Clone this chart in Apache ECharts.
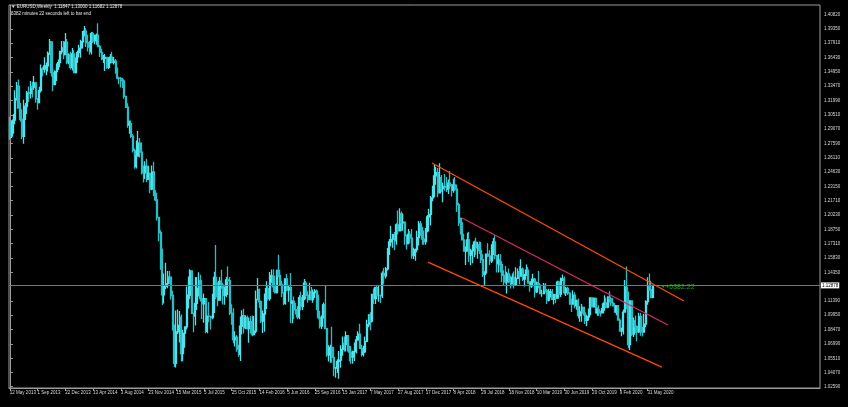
<!DOCTYPE html>
<html><head><meta charset="utf-8">
<script src="https://cdn.jsdelivr.net/npm/echarts@6/dist/echarts.min.js"></script>
<style>html,body{margin:0;padding:0;background:#000;}#c{width:848px;height:407px;}</style>
</head><body><div id="c"></div>
<script>
// ---- Data (EURUSD weekly) ----
const startWeek = '2013-05-12';
const firstOpen = 1.2970;
const closes = [
1.2835,1.2933,1.2999,1.3222,1.3347,1.3122,1.3007,1.2831,1.3067,1.3142,
1.3279,1.3275,1.3343,1.3336,1.3380,1.3217,1.3179,1.3301,1.3524,1.3523,
1.3555,1.3556,1.3685,1.3803,1.3486,1.3363,1.3497,1.3555,1.3589,1.3704,
1.3740,1.3673,1.3800,1.3590,1.3667,1.3540,1.3678,1.3487,1.3635,1.3693,
1.3738,1.3804,1.3876,1.3914,1.3795,1.3749,1.3704,1.3888,1.3813,1.3831,
1.3871,1.3755,1.3695,1.3631,1.3634,1.3644,1.3541,1.3608,1.3647,1.3593,
1.3604,1.3523,1.3430,1.3428,1.3413,1.3401,1.3242,1.3131,1.2951,1.2962,
1.2833,1.2685,1.2522,1.2630,1.2761,1.2670,1.2525,1.2457,1.2526,1.2391,
1.2451,1.2289,1.2466,1.2227,1.2179,1.2000,1.1841,1.1564,1.1204,1.1291,
1.1318,1.1389,1.1384,1.1196,1.0844,1.0499,1.0823,1.0888,1.0971,1.0600,
1.0808,1.0873,1.1198,1.1199,1.1448,1.1014,1.0986,1.1115,1.1268,1.1349,
1.1165,1.1111,1.1164,1.0829,1.0985,1.0982,1.0970,1.1100,1.1383,1.1184,
1.1150,1.1340,1.1302,1.1198,1.1208,1.1357,1.1349,1.1016,1.1003,1.0741,
1.0767,1.0645,1.0593,1.0880,1.0990,1.0867,1.0966,1.0856,1.0927,1.0914,
1.0795,1.0831,1.1155,1.1256,1.1132,1.0932,1.1006,1.1153,1.1267,1.1165,
1.1389,1.1400,1.1285,1.1225,1.1453,1.1402,1.1310,1.1224,1.1117,1.1367,
1.1253,1.1278,1.1118,1.1135,1.1050,1.1036,1.0977,1.1174,1.1086,1.1164,
1.1324,1.1197,1.1155,1.1233,1.1154,1.1227,1.1241,1.1200,1.0972,1.0881,
1.0985,1.1100,1.0855,1.0587,1.0588,1.0662,1.0561,1.0451,1.0454,1.0520,
1.0532,1.0643,1.0703,1.0695,1.0783,1.0640,1.0615,1.0562,1.0620,1.0672,
1.0739,1.0799,1.0652,1.0591,1.0616,1.0724,1.0896,1.0996,1.0932,1.1207,
1.1164,1.1277,1.1196,1.1196,1.1195,1.1424,1.1398,1.1470,1.1663,1.1748,
1.1773,1.1821,1.1760,1.1923,1.1860,1.2036,1.1944,1.1951,1.1813,1.1729,
1.1823,1.1786,1.1606,1.1608,1.1668,1.1792,1.1932,1.1897,1.1775,1.1750,
1.1860,1.2005,1.2029,1.2200,1.2221,1.2426,1.2459,1.2252,1.2408,1.2294,
1.2318,1.2307,1.2288,1.2352,1.2323,1.2279,1.2332,1.2288,1.2129,1.1960,
1.1943,1.1767,1.1652,1.1660,1.1768,1.1611,1.1655,1.1684,1.1745,1.1685,
1.1719,1.1657,1.1565,1.1410,1.1438,1.1622,1.1600,1.1553,1.1622,1.1747,
1.1605,1.1524,1.1560,1.1512,1.1403,1.1386,1.1337,1.1418,1.1337,1.1315,
1.1381,1.1306,1.1372,1.1441,1.1395,1.1467,1.1364,1.1404,1.1457,1.1324,
1.1295,1.1335,1.1365,1.1234,1.1325,1.1303,1.1217,1.1217,1.1300,1.1246,
1.1149,1.1200,1.1235,1.1157,1.1204,1.1170,1.1333,1.1211,1.1370,1.1370,
1.1225,1.1270,1.1220,1.1128,1.1108,1.1200,1.1092,1.1143,1.0990,1.1028,
1.1074,1.1018,1.0940,1.0978,1.1040,1.1172,1.1080,1.1166,1.1019,1.1051,
1.1019,1.1017,1.1060,1.1120,1.1078,1.1180,1.1162,1.1120,1.1090,1.1025,
1.1093,1.0944,1.0830,1.0847,1.1026,1.1282,1.1105,1.0692,1.1141,1.0799,
1.0935,1.0875,1.0823,1.0981,1.0841,1.0819,1.0903,1.1134,1.1290,1.1256,
1.1178,1.12878
];
const highs = [
1.3030,1.2997,1.3062,1.3306,1.3390,1.3416,1.3175,1.3110,1.3208,1.3175,
1.3297,1.3345,1.3401,1.3394,1.3452,1.3393,1.3225,1.3342,1.3569,1.3541,
1.3646,1.3590,1.3705,1.3832,1.3809,1.3530,1.3510,1.3580,1.3621,1.3708,
1.3811,1.3812,1.3893,1.3833,1.3687,1.3701,1.3739,1.3717,1.3640,1.3715,
1.3774,1.3825,1.3914,1.3967,1.3944,1.3877,1.3811,1.3905,1.3906,1.3876,
1.3889,1.3993,1.3770,1.3732,1.3669,1.3677,1.3645,1.3646,1.3677,1.3701,
1.3647,1.3627,1.3540,1.3444,1.3443,1.3433,1.3390,1.3225,1.3173,1.2994,
1.2994,1.2857,1.2708,1.2790,1.2887,1.2815,1.2768,1.2532,1.2575,1.2601,
1.2530,1.2457,1.2532,1.2570,1.2279,1.2252,1.1969,1.1868,1.1680,1.1423,
1.1534,1.1447,1.1449,1.1388,1.1245,1.0899,1.1043,1.1052,1.1037,1.1000,
1.0845,1.0880,1.1290,1.1391,1.1467,1.1414,1.1021,1.1385,1.1386,1.1436,
1.1409,1.1278,1.1216,1.1125,1.0986,1.1129,1.0985,1.1214,1.1440,1.1714,
1.1331,1.1387,1.1460,1.1327,1.1288,1.1387,1.1495,1.1387,1.1106,1.1065,
1.0829,1.0790,1.0690,1.0981,1.1044,1.1060,1.0993,1.0990,1.0971,1.0983,
1.0990,1.0985,1.1247,1.1376,1.1268,1.1146,1.1043,1.1218,1.1342,1.1294,
1.1438,1.1463,1.1465,1.1398,1.1460,1.1616,1.1446,1.1349,1.1228,1.1373,
1.1416,1.1298,1.1427,1.1148,1.1186,1.1120,1.1089,1.1198,1.1234,1.1201,
1.1366,1.1344,1.1241,1.1328,1.1283,1.1259,1.1263,1.1258,1.1204,1.1039,
1.0986,1.1124,1.1300,1.0840,1.0685,1.0690,1.0874,1.0668,1.0458,1.0540,
1.0626,1.0685,1.0775,1.0774,1.0830,1.0771,1.0680,1.0678,1.0630,1.0714,
1.0780,1.0830,1.0906,1.0690,1.0679,1.0774,1.0948,1.1000,1.1023,1.1208,
1.1268,1.1285,1.1296,1.1296,1.1199,1.1445,1.1479,1.1490,1.1684,1.1777,
1.1910,1.1830,1.1849,1.1940,1.2070,1.2092,1.2060,1.2034,1.1952,1.1799,
1.1880,1.1860,1.1880,1.1688,1.1680,1.1861,1.1961,1.1961,1.1876,1.1863,
1.1890,1.2023,1.2089,1.2219,1.2323,1.2537,1.2520,1.2506,1.2555,1.2435,
1.2355,1.2446,1.2413,1.2388,1.2476,1.2343,1.2396,1.2414,1.2336,1.2150,
1.1997,1.1996,1.1831,1.1700,1.1840,1.1852,1.1676,1.1720,1.1760,1.1791,
1.1748,1.1750,1.1747,1.1620,1.1444,1.1624,1.1734,1.1660,1.1722,1.1788,
1.1815,1.1609,1.1622,1.1621,1.1549,1.1457,1.1500,1.1441,1.1473,1.1401,
1.1423,1.1443,1.1486,1.1474,1.1497,1.1570,1.1484,1.1417,1.1514,1.1488,
1.1342,1.1372,1.1419,1.1375,1.1339,1.1448,1.1325,1.1256,1.1324,1.1324,
1.1264,1.1265,1.1264,1.1264,1.1215,1.1214,1.1348,1.1347,1.1380,1.1412,
1.1392,1.1286,1.1286,1.1230,1.1162,1.1250,1.1230,1.1155,1.1165,1.1085,
1.1109,1.1076,1.1025,1.0999,1.1062,1.1179,1.1179,1.1175,1.1175,1.1074,
1.1097,1.1039,1.1117,1.1200,1.1175,1.1188,1.1239,1.1171,1.1173,1.1118,
1.1096,1.1095,1.0963,1.0864,1.1053,1.1355,1.1495,1.1237,1.1147,1.1148,
1.0970,1.0990,1.0888,1.1019,1.1019,1.0876,1.1008,1.1147,1.1384,1.1422,
1.1348,1.1300
];
const lows = [
1.2796,1.2814,1.2858,1.2955,1.3200,1.3115,1.2985,1.2805,1.2755,1.3001,
1.3126,1.3186,1.3222,1.3231,1.3310,1.3178,1.3105,1.3177,1.3282,1.3447,
1.3485,1.3461,1.3497,1.3669,1.3446,1.3296,1.3358,1.3401,1.3513,1.3542,
1.3676,1.3625,1.3665,1.3573,1.3574,1.3520,1.3508,1.3485,1.3478,1.3588,
1.3642,1.3640,1.3735,1.3857,1.3749,1.3705,1.3673,1.3673,1.3790,1.3779,
1.3772,1.3751,1.3647,1.3614,1.3586,1.3503,1.3527,1.3523,1.3580,1.3584,
1.3571,1.3476,1.3419,1.3367,1.3333,1.3328,1.3217,1.3125,1.2919,1.2858,
1.2815,1.2666,1.2500,1.2502,1.2623,1.2614,1.2439,1.2358,1.2394,1.2359,
1.2392,1.2247,1.2279,1.2218,1.2165,1.1968,1.1754,1.1460,1.1098,1.1114,
1.1262,1.1270,1.1315,1.1155,1.0840,1.0462,1.0457,1.0800,1.0713,1.0518,
1.0520,1.0660,1.0848,1.1063,1.1158,1.1012,1.0819,1.0888,1.1047,1.1187,
1.1134,1.0955,1.0915,1.0808,1.0809,1.0922,1.0848,1.0953,1.1017,1.1157,
1.1086,1.1152,1.1266,1.1104,1.1100,1.1179,1.1335,1.0997,1.0896,1.0705,
1.0673,1.0617,1.0566,1.0524,1.0796,1.0805,1.0850,1.0848,1.0711,1.0805,
1.0778,1.0807,1.0809,1.1163,1.1067,1.0913,1.0810,1.0823,1.1058,1.1144,
1.1143,1.1327,1.1233,1.1217,1.1217,1.1384,1.1300,1.1180,1.1097,1.1101,
1.1240,1.1131,1.0912,1.0912,1.0952,1.1001,1.0952,1.0953,1.1045,1.1046,
1.1147,1.1181,1.1123,1.1148,1.1151,1.1123,1.1171,1.1048,1.0953,1.0858,
1.0851,1.0960,1.0852,1.0568,1.0518,1.0505,1.0505,1.0366,1.0352,1.0400,
1.0340,1.0454,1.0576,1.0621,1.0620,1.0620,1.0521,1.0494,1.0495,1.0524,
1.0600,1.0737,1.0651,1.0569,1.0570,1.0606,1.0724,1.0869,1.0839,1.0920,
1.1110,1.1109,1.1195,1.1131,1.1119,1.1170,1.1312,1.1371,1.1452,1.1613,
1.1703,1.1688,1.1662,1.1719,1.1823,1.1866,1.1858,1.1861,1.1717,1.1669,
1.1729,1.1730,1.1574,1.1572,1.1553,1.1640,1.1711,1.1811,1.1717,1.1717,
1.1718,1.1846,1.1996,1.1915,1.2165,1.2206,1.2335,1.2206,1.2260,1.2260,
1.2154,1.2272,1.2259,1.2239,1.2289,1.2214,1.2252,1.2276,1.2055,1.1910,
1.1823,1.1763,1.1647,1.1510,1.1645,1.1541,1.1508,1.1527,1.1590,1.1616,
1.1575,1.1624,1.1529,1.1387,1.1301,1.1422,1.1590,1.1510,1.1530,1.1612,
1.1570,1.1432,1.1432,1.1433,1.1335,1.1301,1.1316,1.1216,1.1322,1.1267,
1.1317,1.1269,1.1302,1.1369,1.1310,1.1393,1.1345,1.1289,1.1398,1.1318,
1.1234,1.1274,1.1325,1.1176,1.1221,1.1271,1.1212,1.1183,1.1210,1.1226,
1.1110,1.1135,1.1176,1.1150,1.1105,1.1116,1.1164,1.1203,1.1181,1.1345,
1.1207,1.1192,1.1201,1.1101,1.1027,1.1104,1.1066,1.1050,1.0963,1.0926,
1.0926,1.0990,1.0904,1.0879,1.0940,1.0992,1.1073,1.1072,1.1014,1.0989,
1.0989,1.0981,1.1016,1.1040,1.1064,1.1066,1.1125,1.1086,1.1087,1.1020,
1.0992,1.0940,1.0827,1.0777,1.0795,1.1026,1.1055,1.0653,1.0636,1.0780,
1.0770,1.0811,1.0727,1.0810,1.0782,1.0775,1.0871,1.0870,1.1102,1.1243,
1.1168,1.11682
];
const bidPrice = 1.12878;
const headerLine1 = '\u25BC EURUSD,Weekly  1.11847 1.13000 1.11682 1.12878';
const headerLine2 = '6382 minutes 22 seconds left to bar end';
const profitText = '+6382.22';
const profitWeek = 377;
const yTicks = [1.40820,1.39350,1.37910,1.36430,1.34950,1.33470,1.31990,1.30510,1.29070,1.27590,
1.26110,1.24630,1.23150,1.21710,1.20230,1.18750,1.17310,1.15830,1.14350,1.11390,
1.09950,1.08470,1.06990,1.05510,1.04070,1.02590];
const xTickLabels = ['12 May 2013','1 Sep 2013','22 Dec 2013','13 Apr 2014','3 Aug 2014','23 Nov 2014',
'15 Mar 2015','5 Jul 2015','25 Oct 2015','14 Feb 2016','5 Jun 2016','25 Sep 2016','15 Jan 2017',
'7 May 2017','27 Aug 2017','17 Dec 2017','8 Apr 2018','29 Jul 2018','18 Nov 2018','10 Mar 2019',
'30 Jun 2019','20 Oct 2019','9 Feb 2020','31 May 2020'];
const weeksPerLabel = 16;
// channel lines: [week index, price]
const channelUpper = [[243.6, 1.2558],[389.0, 1.1140]];
const channelMiddle = [[260.9, 1.1993],[379.8, 1.0893]];
const channelLower = [[241.3, 1.1540],[376.3, 1.0461]];

// ---- build ----
const totalSlots = 468; // visible bar slots incl. chart shift
const yMin = 1.02456, yMax = 1.41817;
const categories = [];
const d0 = new Date(startWeek + 'T00:00:00Z');
for (let i = 0; i < totalSlots; i++) {
  const d = new Date(d0.getTime() + i * 7 * 86400000);
  categories.push(d.toISOString().slice(0, 10));
}
const candles = closes.map((c, i) => {
  const o = i === 0 ? firstOpen : closes[i - 1];
  return [o, c, Math.min(lows[i], o, c), Math.max(highs[i], o, c)];
});

const chart = echarts.init(document.getElementById('c'), null, {renderer: 'canvas'});
const FONT = 'Liberation Sans';
const labelIdx = (i) => i % weeksPerLabel === 0 && (i / weeksPerLabel) < xTickLabels.length;
chart.setOption({
  backgroundColor: '#000',
  animation: false,
  grid: {left: 9, right: 28, top: 5, bottom: 19, show: true, borderColor: '#9c9c9c', borderWidth: 1, backgroundColor: '#000'},
  xAxis: [{
    type: 'category', data: categories, boundaryGap: true,
    axisLine: {show: true, lineStyle: {color: '#9c9c9c', width: 1}},
    axisTick: {show: true, interval: labelIdx, alignWithLabel: true, length: 3, lineStyle: {color: '#9c9c9c'}},
    axisLabel: {interval: labelIdx, formatter: (v, i) => xTickLabels[i / weeksPerLabel] || '', color: '#d8d8d8', fontSize: 4.5, fontFamily: FONT, align: 'left', margin: 2},
    splitLine: {show: false}
  }, {
    type: 'value', min: -0.5, max: totalSlots - 0.5, show: false
  }],
  yAxis: {
    type: 'value', position: 'right', min: yMin, max: yMax, scale: true,
    axisLine: {show: true, lineStyle: {color: '#9c9c9c', width: 1}},
    axisTick: {show: true, customValues: yTicks, length: 3, lineStyle: {color: '#9c9c9c'}},
    axisLabel: {customValues: yTicks, formatter: (v) => v.toFixed(5), color: '#d8d8d8', fontSize: 4.5, fontFamily: FONT, margin: 4},
    splitLine: {show: false}
  },
  graphic: [
    {type: 'text', left: 11, top: 4, style: {text: headerLine1, fill: '#e8e8e8', font: '4.5px ' + FONT}},
    {type: 'text', left: 11, top: 11, style: {text: headerLine2, fill: '#e8e8e8', font: '4.5px ' + FONT}}
  ],
  series: [{
    type: 'candlestick', data: candles, barWidth: 1.6,
    itemStyle: {color: '#4fe2ea', color0: '#2bbcc4', borderColor: '#4fe2ea', borderColor0: '#2bbcc4', borderWidth: 1.3},
    markLine: {
      silent: true, symbol: 'none', animation: false,
      lineStyle: {color: '#677a8d', width: 1, type: 'solid'},
      label: {show: true, position: 'end', formatter: bidPrice.toFixed(5), backgroundColor: '#ffffff', color: '#000', fontSize: 4.5, fontFamily: FONT, padding: [1, 1, 0, 1], distance: 1},
      data: [{yAxis: bidPrice}]
    }
  }, {
    type: 'line', xAxisIndex: 1, data: channelUpper, symbol: 'none', silent: true,
    lineStyle: {color: '#ff4b00', width: 1.3}
  }, {
    type: 'line', xAxisIndex: 1, data: channelMiddle, symbol: 'none', silent: true,
    lineStyle: {color: '#dc2a6a', width: 1.2}
  }, {
    type: 'line', xAxisIndex: 1, data: channelLower, symbol: 'none', silent: true,
    lineStyle: {color: '#ff4b00', width: 1.3}
  }, {
    type: 'scatter', xAxisIndex: 1, data: [[profitWeek, bidPrice]], symbolSize: 2, silent: true,
    itemStyle: {color: '#22c822'},
    label: {show: true, position: 'right', distance: 1, formatter: profitText, color: '#22c822', fontSize: 7, fontFamily: FONT}
  }]
});
</script></body></html>
